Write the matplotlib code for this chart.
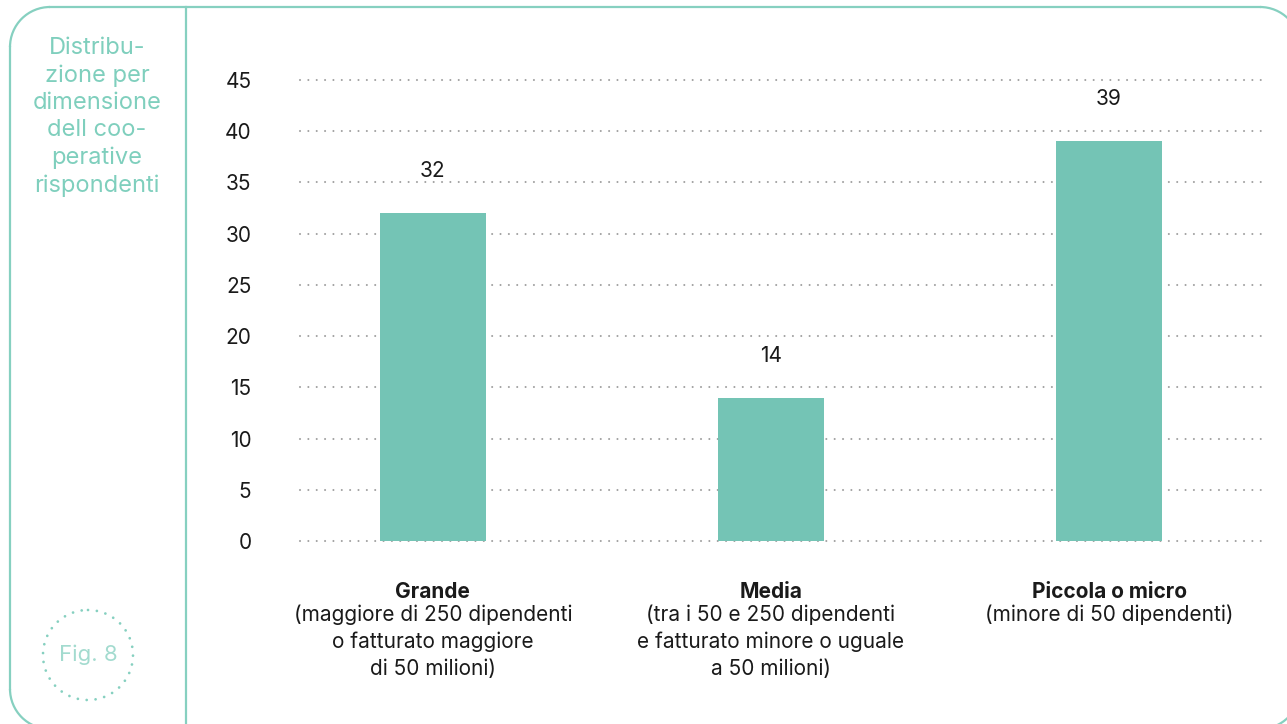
import matplotlib.pyplot as plt
from matplotlib.patches import Arc, Circle
import numpy as np

plt.rcParams['font.family'] = ['Inter', 'DejaVu Sans']

# Data
categories = ['Grande', 'Media', 'Piccola o micro']
descriptions = [
    ['(maggiore di 250 dipendenti', 'o fatturato maggiore', 'di 50 milioni)'],
    ['(tra i 50 e 250 dipendenti', 'e fatturato minore o uguale', 'a 50 milioni)'],
    ['(minore di 50 dipendenti)'],
]
values = [32, 14, 39]
yticks = [0, 5, 10, 15, 20, 25, 30, 35, 40, 45]

title_text = 'Distribu-\nzione per\ndimensione\ndell coo-\nperative\nrispondenti'
fig_label = 'Fig. 8'

teal = '#74c4b5'
frame_col = '#86d0c0'
text_teal = '#7fcfbd'
dark = '#1a1a1a'

W, H = 1287, 724
fig = plt.figure(figsize=(W / 100, H / 100), dpi=100)

# background layer in pixel coordinates (y down)
bg = fig.add_axes([0, 0, 1, 1], zorder=0)
bg.set_xlim(0, W)
bg.set_ylim(H, 0)
bg.axis('off')

# rounded frame
L, T, R, B, r = 10, 7, 1300, 729, 40
fkw = dict(color=frame_col, linewidth=1.6)
bg.plot([L + r, R - r], [T, T], **fkw)
bg.plot([L, L], [T + r, B - r], **fkw)
bg.plot([L + r, R - r], [B, B], **fkw)
bg.plot([R, R], [T + r, B - r], **fkw)
for (cx, cy, t1, t2) in [(L + r, T + r, 180, 270), (L + r, B - r, 90, 180),
                         (R - r, T + r, 270, 360), (R - r, B - r, 0, 90)]:
    bg.add_patch(Arc((cx, cy), 2 * r, 2 * r, theta1=t1, theta2=t2,
                     edgecolor=frame_col, linewidth=1.6))
bg.plot([186, 186], [T, H], **fkw)

bg.text(97, 117, title_text, ha='center', va='center', color=text_teal,
        fontsize=17, linespacing=1.3)
bg.add_patch(Circle((88, 655), 45, fill=False, edgecolor=frame_col, linewidth=2,
                    linestyle=(0, (0.01, 3.2)), capstyle='round'))
bg.text(88, 655, fig_label, ha='center', va='center', color='#a3dbcf', fontsize=16)

# chart
ax = fig.add_axes([300 / W, 183 / H, 968 / W, 461 / H], zorder=1)
ax.patch.set_alpha(0)
x = np.arange(len(categories))
ax.bar(x, values, width=0.314, color=teal, zorder=3)
ax.set_xlim(-0.393, 2.47)
ax.set_ylim(0, 45)
ax.set_yticks(yticks)
ax.tick_params(axis='y', length=0, pad=35, labelsize=15, labelcolor=dark)
ax.set_xticks([])
for s in ax.spines.values():
    s.set_visible(False)
for t in yticks:
    ax.axhline(t, color='#a0a0a0', linewidth=1.5, linestyle=(0, (0.01, 4)),
               dash_capstyle='round', zorder=1, clip_on=False)

for i, v in enumerate(values):
    ax.annotate(str(v), xy=(x[i], v), xytext=(0, 42), textcoords='offset pixels',
                ha='center', va='center', fontsize=15, color=dark)
    ax.annotate(categories[i], xy=(x[i], 0), xytext=(0, -51), textcoords='offset pixels',
                ha='center', va='center', fontsize=15, fontweight='bold', color=dark,
                annotation_clip=False)
    for k, line in enumerate(descriptions[i]):
        ax.annotate(line, xy=(x[i], 0), xytext=(0, -74 - 27 * k), textcoords='offset pixels',
                    ha='center', va='center', fontsize=15, color=dark,
                    annotation_clip=False)

fig.savefig('out.png', dpi=100)
